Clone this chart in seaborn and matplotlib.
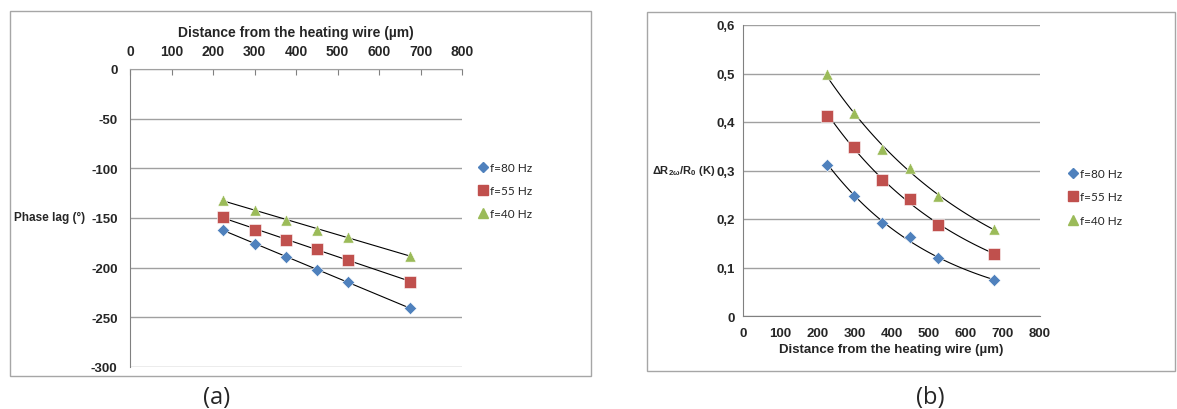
import seaborn as sns
import matplotlib.pyplot as plt
import matplotlib.patches as mpatches
import numpy as np
import pandas as pd

# Data
distance = [225, 300, 375, 450, 525, 675]
labels = ['f=80 Hz', 'f=55 Hz', 'f=40 Hz']
phase_80 = [-162, -176, -189, -202, -214, -241]
phase_55 = [-149, -162, -172, -181, -192, -214]
phase_40 = [-132, -142, -152, -162, -169, -188]
dr_80 = [0.312, 0.248, 0.192, 0.163, 0.120, 0.074]
dr_55 = [0.412, 0.349, 0.280, 0.241, 0.188, 0.128]
dr_40 = [0.499, 0.418, 0.344, 0.305, 0.247, 0.179]

colors = {'f=80 Hz': '#4F81BD', 'f=55 Hz': '#C0504D', 'f=40 Hz': '#9BBB59'}
markers = {'f=80 Hz': 'D', 'f=55 Hz': 's', 'f=40 Hz': '^'}
sizes = {'f=80 Hz': 40, 'f=55 Hz': 80, 'f=40 Hz': 65}

df_a = pd.DataFrame({'x': distance * 3, 'y': phase_80 + phase_55 + phase_40,
                     'f': np.repeat(labels, len(distance))})
df_b = pd.DataFrame({'x': distance * 3, 'y': dr_80 + dr_55 + dr_40,
                     'f': np.repeat(labels, len(distance))})

sns.set_style('white')
plt.rcParams['font.family'] = ['Liberation Sans', 'DejaVu Sans']
plt.rcParams['axes.unicode_minus'] = False
plt.rcParams['mathtext.fontset'] = 'custom'
plt.rcParams['mathtext.rm'] = 'Liberation Sans'
plt.rcParams['mathtext.bf'] = 'Liberation Sans:bold'

W, H = 1177, 410
fig = plt.figure(figsize=(W / 100, H / 100), dpi=100)


def px_axes(x0, y0, x1, y1):
    return fig.add_axes([x0 / W, 1 - y1 / H, (x1 - x0) / W, (y1 - y0) / H])


# outer chart frames
for (x0, y0, x1, y1) in [(10, 12, 591, 377), (647, 13, 1175, 372)]:
    fig.patches.append(mpatches.Rectangle((x0 / W, 1 - y1 / H), (x1 - x0) / W, (y1 - y0) / H,
                                          transform=fig.transFigure, fill=False,
                                          edgecolor='#a6a6a6', lw=1.0))

grid_c = '#a0a0a0'


def draw_points(ax, df):
    for lab in labels:
        sub = df[df['f'] == lab]
        sns.scatterplot(data=sub, x='x', y='y', ax=ax, color=colors[lab], marker=markers[lab],
                        s=sizes[lab], edgecolor='white', linewidth=0.4, zorder=4, legend=False)


def draw_legend(ax, x, y):
    handles = [plt.Line2D([], [], ls='', marker=markers[l], color=colors[l],
                          markersize=7 if markers[l] != 'D' else 5.5) for l in labels]
    ax.legend(handles, labels, loc='upper left', bbox_to_anchor=(x, y), frameon=False,
              handletextpad=0.1, labelspacing=1.05, borderaxespad=0,
              handlelength=1.0, prop={'family': 'Lato', 'size': 8.5})


# ---- (a) phase lag ----
ax1 = px_axes(130, 70, 462, 368)
draw_points(ax1, df_a)
xs = np.linspace(distance[0], distance[-1], 50)
for vals in (phase_80, phase_55, phase_40):
    k, b = np.polyfit(distance, vals, 1)
    ax1.plot(xs, k * xs + b, color='black', lw=0.8, zorder=3)
ax1.set_xlim(0, 800)
ax1.set_ylim(-300, 0)
ax1.set_xticks(range(0, 801, 100))
ax1.set_yticks(range(-300, 1, 50))
ax1.xaxis.tick_top()
ax1.xaxis.set_label_position('top')
ax1.set_xlabel('Distance from the heating wire (µm)', fontsize=10, fontweight='bold', labelpad=6)
ax1.set_ylabel('')
ax1.tick_params(axis='x', direction='in', length=4, color='#808080', pad=8, labelsize=10)
ax1.tick_params(axis='y', length=4, color='#808080', pad=5, labelsize=9.5)
for lab in ax1.get_xticklabels() + ax1.get_yticklabels():
    lab.set_fontweight('bold')
for s in ('right', 'bottom'):
    ax1.spines[s].set_visible(False)
ax1.spines['top'].set_color(grid_c)
ax1.spines['left'].set_color('#808080')
ax1.yaxis.grid(True, color=grid_c, lw=1)
ax1.set_axisbelow(True)
fig.text(14 / W, 1 - 218 / H, 'Phase lag (°)', fontsize=8.5, fontweight='bold', va='center')
draw_legend(ax1, 1.03, 0.705)

# ---- (b) temperature amplitude ----
ax2 = px_axes(743, 26, 1040, 317)
draw_points(ax2, df_b)
xs = np.linspace(distance[0], distance[-1], 80)
for vals in (dr_80, dr_55, dr_40):
    k, b = np.polyfit(distance, np.log(vals), 1)
    ax2.plot(xs, np.exp(b + k * xs), color='black', lw=0.8, zorder=3)
ax2.set_xlim(0, 800)
ax2.set_ylim(0, 0.6)
ax2.set_xticks(range(0, 801, 100))
ax2.set_yticks(np.arange(0, 0.61, 0.1))
ax2.set_yticklabels(['0', '0,1', '0,2', '0,3', '0,4', '0,5', '0,6'])
ax2.set_xlabel('Distance from the heating wire (µm)', fontsize=9.5, fontweight='bold', labelpad=3)
ax2.set_ylabel('')
ax2.tick_params(axis='x', length=4, color='#808080', labelsize=9.5, pad=4)
ax2.tick_params(axis='y', length=4, color='#808080', labelsize=9.5, pad=1.5)
for lab in ax2.get_xticklabels() + ax2.get_yticklabels():
    lab.set_fontweight('bold')
for s in ('right', 'top'):
    ax2.spines[s].set_visible(False)
ax2.spines['left'].set_color('#808080')
ax2.spines['bottom'].set_color('#808080')
ax2.yaxis.grid(True, color=grid_c, lw=1)
ax2.set_axisbelow(True)
fig.text(652 / W, 1 - 171 / H, r'ΔR$_{\mathbf{2ω}}$/R$_{\mathbf{0}}$ (K)', fontsize=8,
         fontweight='bold', va='center')
draw_legend(ax2, 1.075, 0.525)

# panel captions
fig.text(217 / W, 1 - 398 / H, '(a)', fontsize=17, ha='center', va='center', family='Open Sans')
fig.text(930 / W, 1 - 398 / H, '(b)', fontsize=17, ha='center', va='center', family='Open Sans')

fig.savefig('out.png', dpi=100)
